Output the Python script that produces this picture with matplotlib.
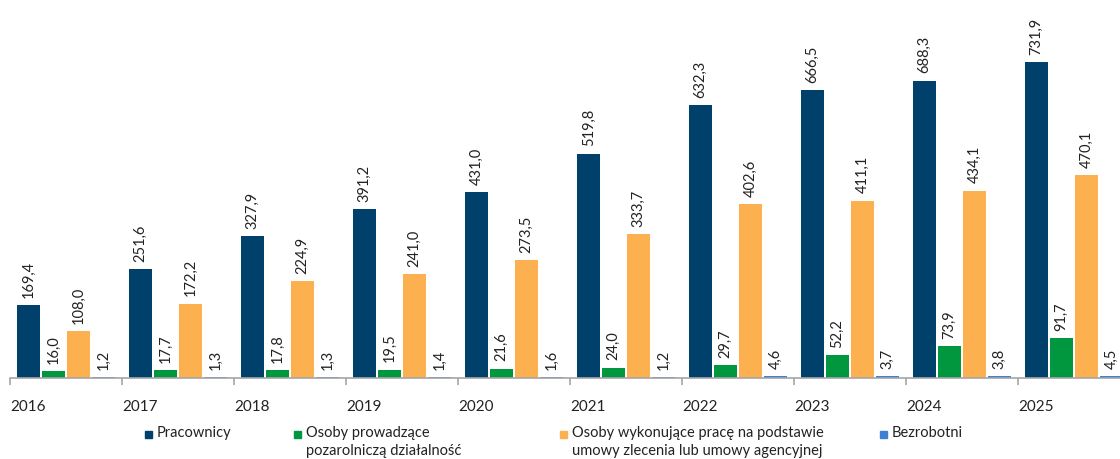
import numpy as np
import matplotlib
matplotlib.use('Agg')
import matplotlib.pyplot as plt
from matplotlib.patches import Rectangle

plt.rcParams['font.family'] = ['Lato', 'DejaVu Sans']

years = ['2016', '2017', '2018', '2019', '2020', '2021', '2022', '2023', '2024', '2025']
pracownicy = [169.4, 251.6, 327.9, 391.2, 431.0, 519.8, 632.3, 666.5, 688.3, 731.9]
dzialalnosc = [16.0, 17.7, 17.8, 19.5, 21.6, 24.0, 29.7, 52.2, 73.9, 91.7]
zlecenia = [108.0, 172.2, 224.9, 241.0, 273.5, 333.7, 402.6, 411.1, 434.1, 470.1]
bezrobotni = [1.2, 1.3, 1.3, 1.4, 1.6, 1.2, 4.6, 3.7, 3.8, 4.5]

series = [pracownicy, dzialalnosc, zlecenia, bezrobotni]
labels = ['Pracownicy', 'Osoby prowadzące\npozarolniczą działalność',
          'Osoby wykonujące pracę na podstawie\numowy zlecenia lub umowy agencyjnej',
          'Bezrobotni']
colors = ['#00416B', '#00973F', '#FDB04F', '#3F80D6']

fig = plt.figure(figsize=(11.2, 4.6), dpi=100)
ax = fig.add_axes([10 / 1120, 81 / 460, 1 - 10 / 1120, 1 - 81 / 460])

x = np.arange(len(years))
offsets = [-0.334, -0.112, 0.112, 0.334]
width = 0.21

for vals, off, col in zip(series, offsets, colors):
    bars = ax.bar(x + off, vals, width, color=col, linewidth=0)
    for b, v in zip(bars, vals):
        ax.annotate(f'{v:.1f}'.replace('.', ','), (b.get_x() + b.get_width() / 2, v),
                    xytext=(0, 6), textcoords='offset points', rotation=90,
                    ha='center', va='bottom', fontsize=10.5, color='#222222')

ax.set_xlim(-0.5, 1110 / 112 - 0.5)
ax.set_ylim(0, 379 / (316 / 731.9))

for s in ['top', 'right', 'left']:
    ax.spines[s].set_visible(False)
ax.spines['bottom'].set_color('#A6A6A6')
ax.spines['bottom'].set_linewidth(1.2)
ax.set_yticks([])
ax.set_xticks(x - 0.5)
ax.set_xticklabels(years, ha='left', fontsize=11, color='#222222')
ax.tick_params(axis='x', length=5, color='#A6A6A6', width=1.2, pad=10)

# legend drawn by hand so multi-line labels are top-aligned with markers
leg_x = [145, 294, 560, 880]
for lx, lab, col in zip(leg_x, labels, colors):
    fig.patches.append(Rectangle((lx / 1120, 1 - 439 / 460), 7 / 1120, 7 / 460,
                                 transform=fig.transFigure, color=col))
    fig.text((lx + 12) / 1120, 1 - 426 / 460, lab, ha='left', va='top',
             fontsize=10.5, color='#222222', linespacing=1.35)

fig.savefig('out.png', dpi=100)
